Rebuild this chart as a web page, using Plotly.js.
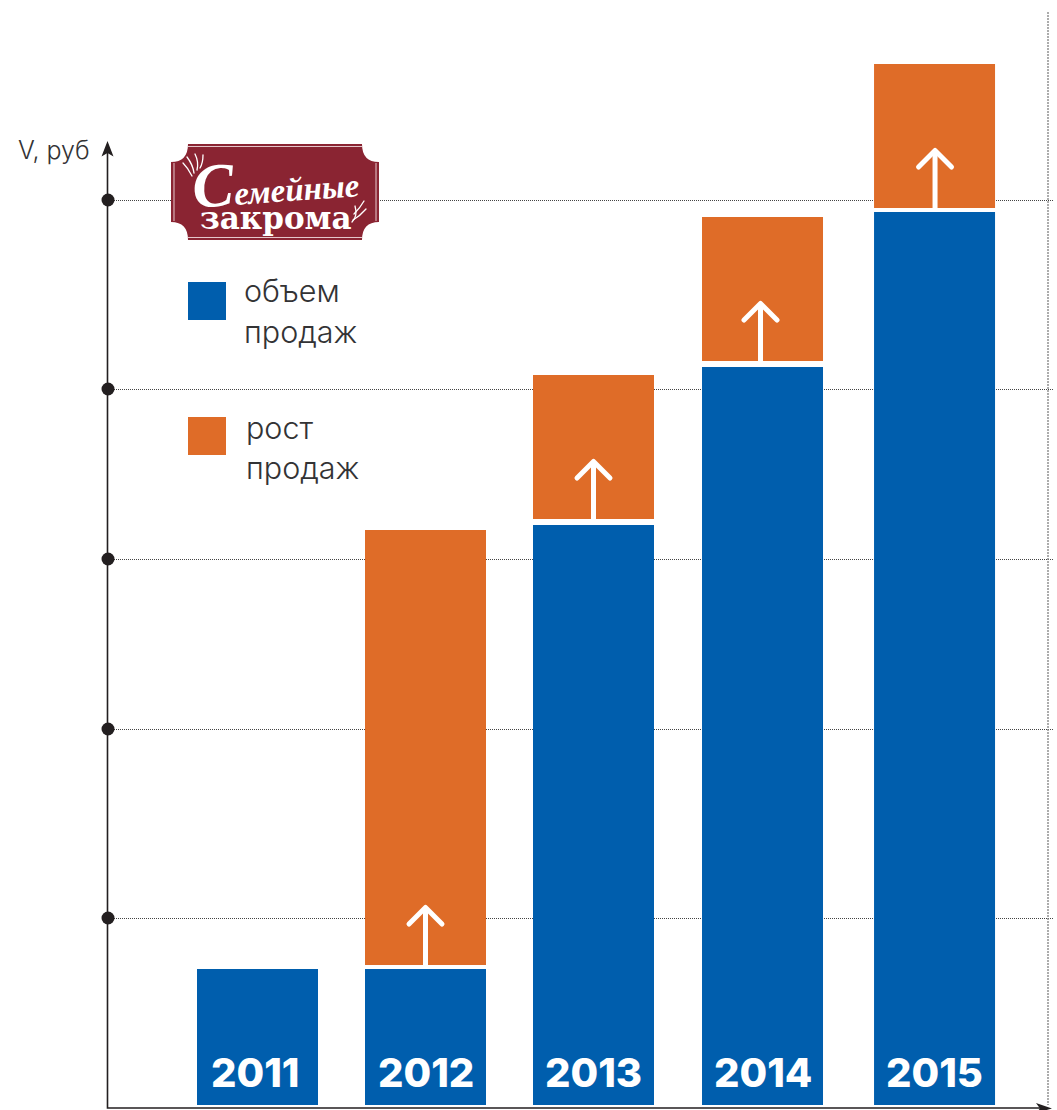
<!DOCTYPE html>
<html lang="ru">
<head>
<meta charset="utf-8">
<title>Объем и рост продаж</title>
<script src="https://cdn.plot.ly/plotly-3.0.1.min.js"></script>
<style>
html,body{margin:0;padding:0;background:#fff;overflow:hidden}
#chart{width:1057px;height:1110px}
/* White strokes (growth arrows, logo flourishes) end in rounded caps */
.shapelayer path[style*="rgb(255, 255, 255)"]{stroke-linecap:round;stroke-linejoin:round}
</style>
</head>
<body>
<div id="chart"></div>
<script>
// Sales data: volume per year plus the growth block sitting above it
const years = ['2011', '2012', '2013', '2014', '2015'];
const slots = [2011, 2012, 2013, 2014.006, 2015.03];
const volume = [136, 136, 580, 738, 893];
const growthYears = [2012, 2013, 2014.006, 2015.03];
const growth = [435, 144, 144, 144];
const growthBase = [140, 586, 744, 897];
const gridLevels = [187, 376, 546, 716, 905];
const arrowNudge = [0, 0, -2, 0.5];

const BLUE = '#005ead', ORANGE = '#df6c28', INK = '#231f20', TEXT = '#333335', WINE = '#8a2432';
const W = 1057, H = 1110, LEFT = 108, RIGHT = 1053;
const xStart = 2011 - 149.5 / 168, xEnd = xStart + (RIGHT - LEFT) / 168;

// Page pixels to paper fractions, for the decoration outside the data scale
const px = v => (v - LEFT) / (RIGHT - LEFT);
const py = v => 1 - v / H;
const pt = (x, y) => px(x).toFixed(5) + ',' + py(y).toFixed(5);
const pathOf = cmds => cmds.map(c => c[0] + c.slice(1).map(p => pt(p[0], p[1])).join(' ')).join(' ');
const paperShape = (cmds, extra) => Object.assign({type: 'path', xref: 'paper', yref: 'paper', layer: 'above', path: pathOf(cmds)}, extra);
const stroke = (c, w, extra) => ({line: Object.assign({color: c, width: w}, extra || {})});
const fill = c => ({fillcolor: c, line: {width: 0}});

// Axes with their arrow heads
const axisShapes = [
  paperShape([['M', [107.5, 150]], ['L', [107.5, 1108]], ['L', [1045, 1108]]], stroke(INK, 1.6)),
  paperShape([['M', [107.5, 141]], ['L', [113.5, 156.5]], ['L', [107.5, 153]], ['L', [101.5, 156.5]], ['Z']], fill(INK)),
  paperShape([['M', [1052, 1108.5]], ['L', [1036, 1103]], ['L', [1040, 1108.5]], ['L', [1036, 1113]], ['Z']], fill(INK)),
  paperShape([['M', [1048, 12]], ['L', [1048, 1105]]], stroke('#808080', 1.3, {dash: '2px,1px'}))
];

// White growth arrows anchored on the top of each volume block
const growthArrows = growthYears.flatMap((yr, i) => {
  const n = arrowNudge[i];
  const common = {type: 'path', xref: 'x', yref: 'y', xsizemode: 'pixel', ysizemode: 'pixel',
    xanchor: yr, yanchor: growthBase[i], layer: 'above'};
  return [
    Object.assign({path: `M${n},0 L${n},56`, line: {color: '#ffffff', width: 5}}, common),
    Object.assign({path: `M${n - 16.5},41 L${n},57.5 L${n + 16.5},41`, line: {color: '#ffffff', width: 5}}, common)
  ];
});

// Legend swatches
const legendSwatches = [
  paperShape([['M', [188, 282]], ['L', [226, 282]], ['L', [226, 320]], ['L', [188, 320]], ['Z']], fill(BLUE)),
  paperShape([['M', [188, 417]], ['L', [226, 417]], ['L', [226, 455]], ['L', [188, 455]], ['Z']], fill(ORANGE))
];

// Brand plate with notched corners and thin inner rules
const plate = paperShape([
  ['M', [188, 144]], ['L', [362, 144]], ['Q', [362, 162], [379, 162]], ['L', [379, 222]],
  ['Q', [362, 222], [362, 240]], ['L', [188, 240]], ['Q', [188, 222], [171, 222]], ['L', [171, 162]],
  ['Q', [188, 162], [188, 144]], ['Z']
], fill(WINE));
const plateRules = [
  [[188, 146.5], [362, 146.5]], [[188, 237.5], [362, 237.5]],
  [[174, 163], [174, 221]], [[376, 163], [376, 221]]
].map(s => paperShape([['M', s[0]], ['L', s[1]]], stroke('#e6c9cd', 1)));
const flourishes = [
  [[192, 176], [188, 168], [183, 163]], [[194, 173], [193, 165], [187, 157]],
  [[197, 170], [199, 162], [195, 154]], [[200, 168], [203, 163], [203, 155]],
  [[352, 222], [358, 216], [355, 206]], [[353, 220], [360, 216], [366, 209]],
  [[354, 214], [360, 208], [364, 201]]
].map(c => paperShape([['M', c[0]], ['Q', c[1], c[2]]], stroke('#ffffff', 1.3)));

const label = (text, x, y, size, extra) => Object.assign({
  text, xref: 'paper', yref: 'paper', x: px(x), y: py(y), xanchor: 'left', yanchor: 'middle',
  showarrow: false, align: 'left', font: {family: 'Inter, sans-serif', size, color: TEXT, weight: 300}
}, extra || {});

const yearLabels = years.map((t, i) => ({
  text: t, xref: 'x', yref: 'y', x: slots[i], y: 33, xanchor: 'center', yanchor: 'middle', showarrow: false,
  xshift: t === '2011' ? -2 : 0,
  font: {family: 'Inter, sans-serif', size: 40, color: '#ffffff', weight: 800}
}));

const annotations = [
  ...yearLabels,
  label('V, руб', 16, 150, 25),
  label('объем', 241.5, 290.5, 30.5),
  label('продаж', 241.5, 331.5, 30.5),
  label('рост', 243.5, 427.5, 30.5),
  label('продаж', 243.5, 467.5, 30.5),
  label('<span style="font-size:62px">С</span>емейные', 188, 181, 33, {textangle: -4, font: {family: 'Liberation Serif, serif', size: 33, color: '#ffffff', style: 'italic', weight: 700}}),
  label('закрома', 198, 218, 31, {font: {family: 'DejaVu Serif, serif', size: 31, color: '#ffffff', weight: 700}})
];

const traces = [
  {type: 'bar', name: 'объем продаж', x: slots, y: volume, base: 0, width: 121 / 168,
    marker: {color: BLUE, line: {width: 0}}, hoverinfo: 'skip'},
  {type: 'bar', name: 'рост продаж', x: growthYears, y: growth, base: growthBase, width: 121 / 168,
    marker: {color: ORANGE, line: {width: 0}}, hoverinfo: 'skip'},
  {type: 'scatter', mode: 'markers', x: gridLevels.map(() => xStart), y: gridLevels, cliponaxis: false,
    marker: {color: INK, size: 13}, hoverinfo: 'skip'}
];

const layout = {
  width: W, height: H, showlegend: false, barmode: 'overlay',
  margin: {l: LEFT, r: W - RIGHT, t: 0, b: 0, autoexpand: false},
  paper_bgcolor: '#fff', plot_bgcolor: '#fff',
  xaxis: {range: [xStart, xEnd], showgrid: false, zeroline: false, showline: false, showticklabels: false, ticks: '', fixedrange: true},
  yaxis: {range: [-5, 1105], tickvals: gridLevels, showgrid: true, griddash: '1px,1px', gridcolor: '#444444', gridwidth: 1,
    zeroline: false, showline: false, showticklabels: false, ticks: '', fixedrange: true},
  shapes: [...axisShapes, ...growthArrows, ...legendSwatches, plate, ...plateRules, ...flourishes],
  annotations
};

Plotly.newPlot('chart', traces, layout, {displayModeBar: false, staticPlot: true});
</script>
</body>
</html>
